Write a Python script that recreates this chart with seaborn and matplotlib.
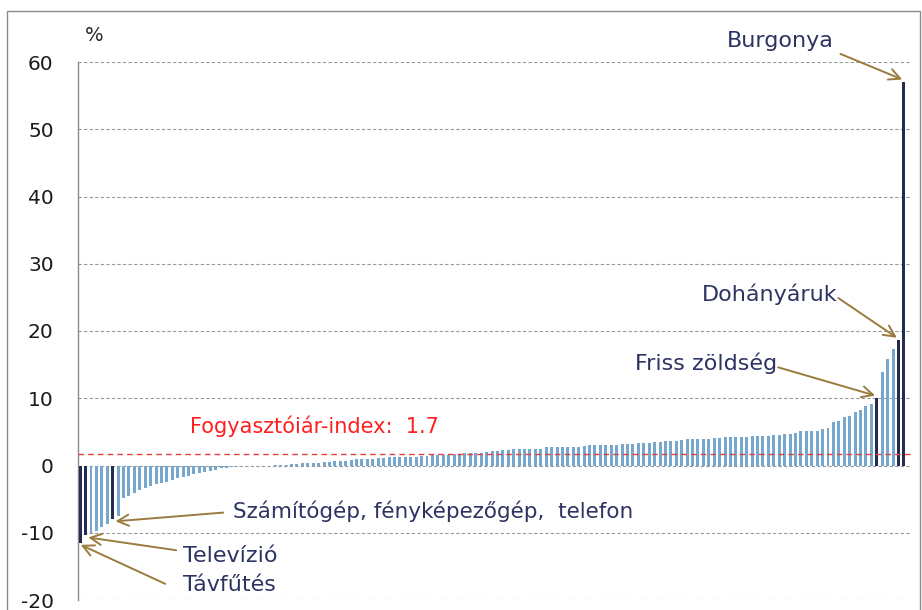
import pandas as pd
import matplotlib.pyplot as plt
import matplotlib.patches as mpatches
import seaborn as sns

# Price changes of the CPI items (%), sorted ascending
values = [
    -11.5, -10.4, -10.1, -9.7, -9.2, -8.7, -8.0, -7.5, -4.9, -4.5,
    -4.1, -3.7, -3.4, -3.1, -2.8, -2.6, -2.4, -2.1, -1.9, -1.7,
    -1.5, -1.3, -1.1, -0.9, -0.8, -0.6, -0.4, -0.3, -0.2, -0.1,
    -0.1, -0.1, 0.0, 0.0, 0.0, 0.0, 0.1, 0.1, 0.1, 0.2,
    0.2, 0.3, 0.3, 0.4, 0.4, 0.5, 0.5, 0.6, 0.7, 0.7,
    0.8, 0.9, 0.9, 1.0, 1.0, 1.1, 1.1, 1.2, 1.2, 1.2,
    1.3, 1.3, 1.3, 1.4, 1.4, 1.5, 1.5, 1.6, 1.6, 1.7,
    1.7, 1.8, 1.8, 1.9, 1.9, 2.0, 2.1, 2.2, 2.3, 2.3,
    2.4, 2.4, 2.4, 2.4, 2.5, 2.5, 2.7, 2.7, 2.7, 2.7,
    2.8, 2.8, 2.8, 2.9, 3.0, 3.0, 3.0, 3.1, 3.1, 3.1,
    3.2, 3.2, 3.2, 3.3, 3.4, 3.4, 3.5, 3.5, 3.6, 3.7,
    3.7, 3.8, 3.9, 3.9, 4.0, 4.0, 4.0, 4.1, 4.1, 4.2,
    4.3, 4.3, 4.3, 4.3, 4.4, 4.4, 4.4, 4.4, 4.5, 4.6,
    4.7, 4.7, 4.8, 5.1, 5.1, 5.1, 5.2, 5.4, 5.6, 6.4,
    6.6, 7.2, 7.4, 7.9, 8.3, 8.8, 9.1, 10.0, 13.9, 15.9,
    17.3, 18.6, 57.0,
]

# highlighted items: index -> label
highlight_idx = [152, 151, 147, 6, 1, 0]
highlight_lbl = ["Burgonya", "Dohányáruk", "Friss zöldség",
                 "Számítógép, fényképezőgép,  telefon", "Televízió", "Távfűtés"]

cpi_index = 1.7
yticks = [-20, -10, 0, 10, 20, 30, 40, 50, 60]

df = pd.DataFrame({"idx": range(len(values)), "val": values})
df["kind"] = ["hi" if i in highlight_idx else "lo" for i in df["idx"]]

light = "#6aa8dc"
navy = "#1f2757"
txt_col = "#2e3462"
arrow_col = "#9a7b3e"

sns.set_style("white")
plt.rcParams["font.family"] = ["DejaVu Sans"]

fig = plt.figure(figsize=(9.22, 6.10), dpi=100)
ax = fig.add_axes([78 / 922, 1 - 600 / 610, 834 / 922, 538 / 610])

sns.barplot(data=df, x="idx", y="val", hue="kind",
            palette={"lo": light, "hi": navy}, dodge=False,
            width=0.55, legend=False, ax=ax, linewidth=0, zorder=3)

ax.set_xlim(-0.4, len(values) + 0.5)
ax.set_ylim(-20, 60)
ax.set_yticks(yticks)
ax.set_yticklabels([str(t) for t in yticks], fontsize=14.5, color="#1a1a1a")
ax.set_xticks([])
ax.set_xlabel("")
ax.set_ylabel("")
ax.yaxis.grid(True, linestyle=(0, (3, 2)), color="#9a9a9a", linewidth=0.8, zorder=0)
ax.tick_params(axis="y", length=7, color="#9a9a9a", width=0.8, pad=10.5)
for s in ["top", "right", "bottom"]:
    ax.spines[s].set_visible(False)
ax.spines["left"].set_color("#8a8a8a")
ax.spines["left"].set_linewidth(1)

# CPI line
ax.axhline(cpi_index, color="#e0403a", linestyle=(0, (4, 3)), linewidth=1, zorder=4)
ax.text(20.3, cpi_index + 4.1, f"Fogyasztóiár-index:  {cpi_index}",
        color="#ff1f1f", fontsize=15, va="center")

ax.text(0.8, 64.0, "%", fontsize=14, va="center", clip_on=False)

# annotations: text position, arrow start, text alignment
text_pos = [(129.2, 63.1), (127.3, 25.4), (115.5, 15.2), (28.2, -6.85), (19.0, -13.4), (19.0, -17.7)]
arrow_from = [(140.3, 61.2), (139.9, 24.9), (128.8, 14.6), (26.4, -7.0), (17.7, -12.6), (15.7, -17.6)]
aligns = ["center", "center", "center", "left", "left", "left"]
sizes = [16, 16, 16, 15.5, 16, 16]
tip_dx = [-0.3, -0.3, -0.3, 0.5, 0.5, 0.1]

for i, lbl, tp, af, ha, fs, dx in zip(highlight_idx, highlight_lbl, text_pos, arrow_from, aligns, sizes, tip_dx):
    v = values[i]
    tip_y = v + 0.4 if v > 0 else v - 0.3
    ax.annotate("", xy=(i + dx, tip_y), xytext=af, annotation_clip=False,
                arrowprops=dict(arrowstyle="->,head_length=0.8,head_width=0.4",
                                color=arrow_col, lw=1.4, shrinkA=0, shrinkB=0))
    ax.text(tp[0], tp[1], lbl, fontsize=fs, color=txt_col, ha=ha, va="center", clip_on=False)

# outer frame
fig.patches.append(mpatches.Rectangle((7 / 922, -0.05), 913 / 922, 1.05 - 11 / 610,
                                      transform=fig.transFigure, fill=False,
                                      edgecolor="#8a8a8a", linewidth=1))

fig.savefig("out.png", dpi=100)
